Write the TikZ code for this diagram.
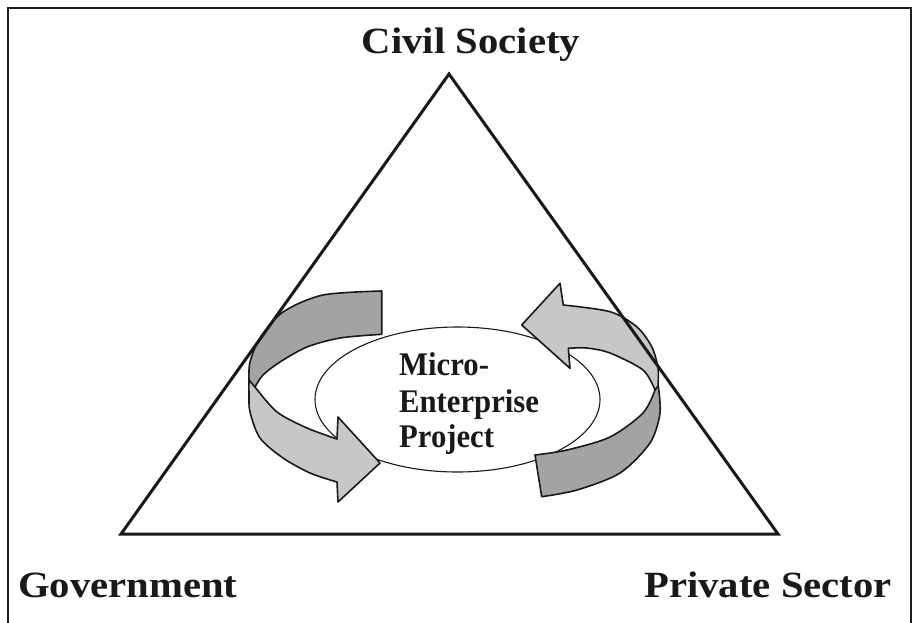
\documentclass[tikz,border=0pt]{standalone}
\usepackage{fontspec}
\setmainfont{Liberation Serif}
\usetikzlibrary{shapes.geometric}
\begin{document}
\begin{tikzpicture}[x=1pt,y=-1pt,
  frame/.style={line width=2pt, draw=black!88},
  tri/.style={line width=3pt, line join=miter, draw=black!90},
  band/.style={line width=1.6pt, line join=round, draw=black!90},
  darkband/.style={band, fill=black!36},
  lightband/.style={band, fill=black!22},
  lbl/.style={font=\fontsize{37}{44}\selectfont\bfseries, inner sep=0pt, text=black!90},
  mtxt/.style={font=\fontsize{33}{40}\selectfont\bfseries, inner sep=0pt, anchor=base west, text=black!90}]
\useasboundingbox (0,0) rectangle (914,622);
% frame (open at the bottom)
\coordinate (fbl) at (7.5,640);
\coordinate (ftl) at (7.5,8);
\coordinate (ftr) at (911,8);
\coordinate (fbr) at (911,640);
\draw[frame] (fbl) -- (ftl) -- (ftr) -- (fbr);
% central ellipse
\node[ellipse, draw=black!90, line width=1.1pt, fill=white, minimum width=285pt, minimum height=145pt, inner sep=0pt] (mep) at (457.5,399.5) {};
% left arrow: lower (light) part with head
\filldraw[lightband] plot[smooth] coordinates {(249,376) (249,395) (250,412) (260,438) (283,458) (310,473) (337,482)}
  -- (338,502) -- (380,463) -- (338,417) -- (337,439)
  -- plot[smooth] coordinates {(337,439) (307,428) (277,412) (255,387)} -- cycle;
% left arrow: upper (dark) part with tail
\filldraw[darkband] plot[smooth] coordinates {(381.7,291) (323,295) (283,312) (260,338) (250,362) (249,380)}
  -- (255,387)
  -- plot[smooth] coordinates {(255,387) (263,375) (280,362) (307,347) (340,338) (381.7,334.3)} -- cycle;
% right arrow: lower (dark) part with tail
\filldraw[darkband] plot[smooth] coordinates {(658,384) (660,413) (650,443) (620,473) (577,490) (541.7,496.7)}
  -- (535,455)
  -- plot[smooth] coordinates {(535,455) (567,450) (610,437) (643,413) (655,390)} -- cycle;
% right arrow: upper (light) part with head
\filldraw[lightband] (521.7,325) -- (560,283.3) -- (563.3,305)
  -- plot[smooth] coordinates {(563.3,305) (610,311.7) (636.7,326.7) (651.7,346.7) (658,368) (658,386)}
  -- (655,390)
  -- plot[smooth] coordinates {(655,390) (643,370) (610,353) (586.7,348) (568.3,348.3)}
  -- (570,368.3) -- cycle;
% triangle
\coordinate (apex) at (449,74);
\coordinate (bl) at (121,534);
\coordinate (br) at (778,534);
\draw[tri] (apex) -- (bl) -- (br) -- cycle;
% labels
\node[lbl, anchor=base] (civ) at (471,53) {\scalebox{1.1}[1]{Civil Society}};
\node[lbl, anchor=base west] (gov) at (18,597) {\scalebox{1.1}[1]{Government}};
\node[lbl, anchor=base east] (pri) at (892,597) {\scalebox{1.1}[1]{Private Sector}};
\node[mtxt] (m1) at (399,375) {\scalebox{0.93}[1]{Micro-}};
\node[mtxt] (m2) at (399,412) {\scalebox{0.93}[1]{Enterprise}};
\node[mtxt] (m3) at (399,447) {\scalebox{0.93}[1]{Project}};
\end{tikzpicture}
\end{document}
